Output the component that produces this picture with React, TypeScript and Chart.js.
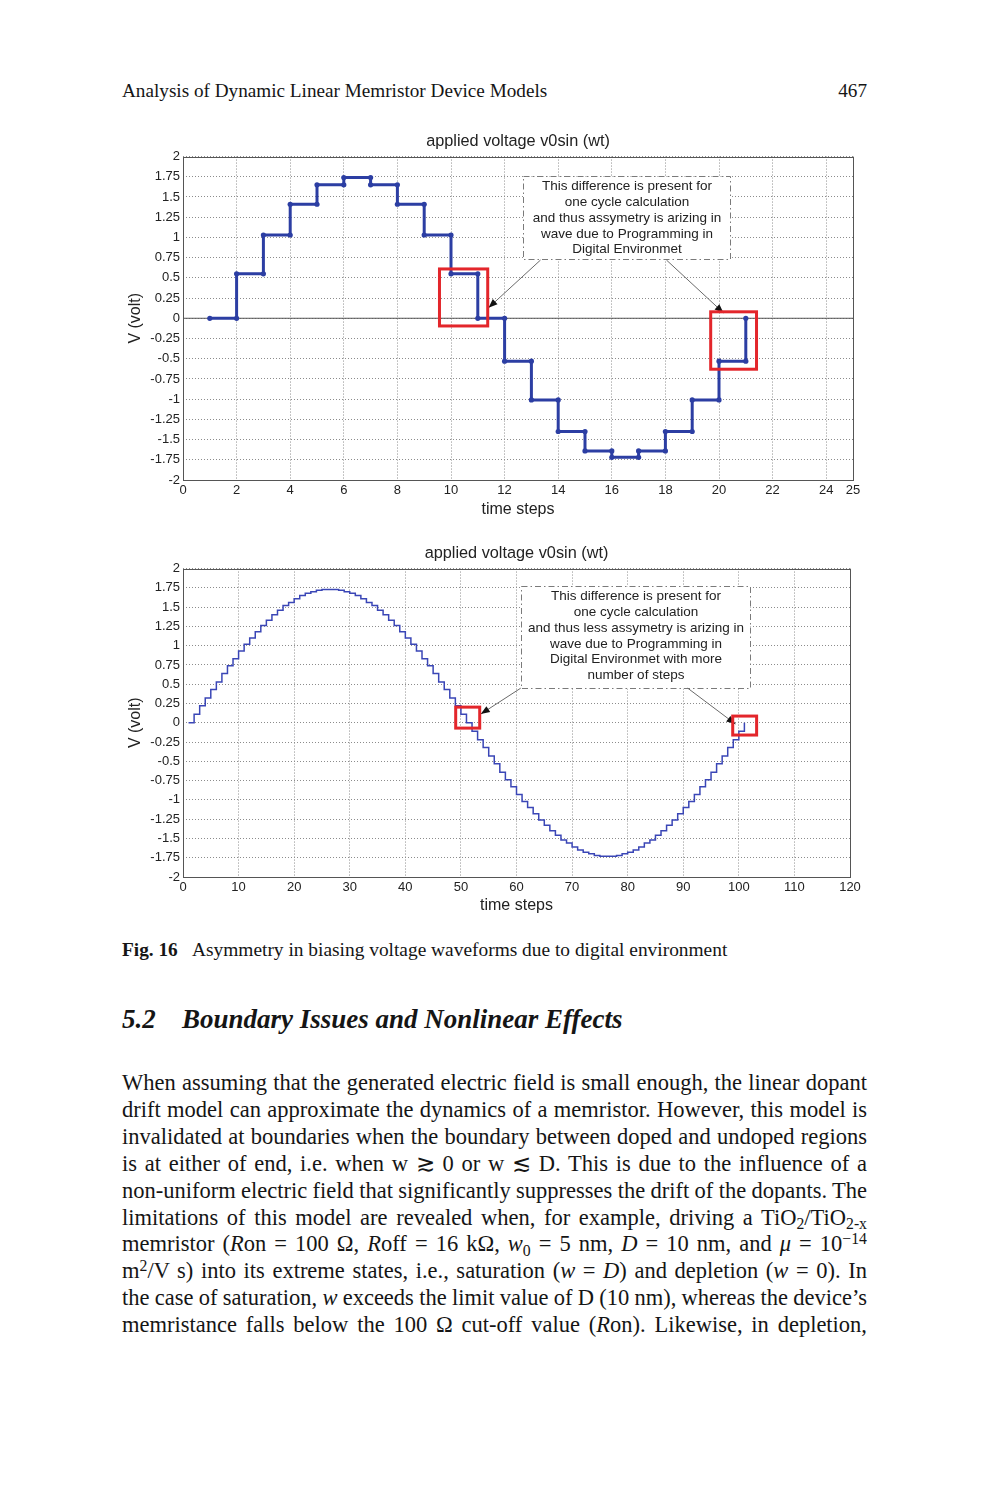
import React, { useEffect, useRef } from "react";
import { Chart, registerables } from "chart.js";

Chart.register(...registerables);

// ---------- data ----------
const Y_TICKS = [-2, -1.75, -1.5, -1.25, -1, -0.75, -0.5, -0.25, 0, 0.25, 0.5, 0.75, 1, 1.25, 1.5, 1.75, 2];
const X_TICKS_1 = [0, 2, 4, 6, 8, 10, 12, 14, 16, 18, 20, 22, 24, 25];
const X_TICKS_2 = [0, 10, 20, 30, 40, 50, 60, 70, 80, 90, 100, 110, 120];

const TIME_STEPS_1 = [1, 2, 3, 4, 5, 6, 7, 8, 9, 10, 11, 12, 13, 14, 15, 16, 17, 18, 19, 20, 21];
const VOLTAGE_1 = [0, 0.55, 1.03, 1.41, 1.65, 1.74, 1.65, 1.41, 1.03, 0.55, 0, -0.53, -1.01, -1.4, -1.64, -1.72, -1.64, -1.4, -1.01, -0.53, 0];

const TIME_STEPS_2 = [
  1, 2, 3, 4, 5, 6, 7, 8, 9, 10, 11, 12, 13, 14, 15, 16, 17, 18, 19, 20,
  21, 22, 23, 24, 25, 26, 27, 28, 29, 30, 31, 32, 33, 34, 35, 36, 37, 38, 39, 40,
  41, 42, 43, 44, 45, 46, 47, 48, 49, 50, 51, 52, 53, 54, 55, 56, 57, 58, 59, 60,
  61, 62, 63, 64, 65, 66, 67, 68, 69, 70, 71, 72, 73, 74, 75, 76, 77, 78, 79, 80,
  81, 82, 83, 84, 85, 86, 87, 88, 89, 90, 91, 92, 93, 94, 95, 96, 97, 98, 99, 100, 101,
];
const VOLTAGE_2 = [
  0, 0.11, 0.22, 0.32, 0.43, 0.53, 0.64, 0.74, 0.83, 0.93, 1.02, 1.1, 1.18, 1.26, 1.33, 1.4, 1.46, 1.52, 1.56, 1.61,
  1.65, 1.68, 1.7, 1.72, 1.73, 1.73, 1.73, 1.72, 1.7, 1.68, 1.65, 1.61, 1.56, 1.52, 1.46, 1.4, 1.33, 1.26, 1.18, 1.1,
  1.02, 0.93, 0.83, 0.74, 0.64, 0.53, 0.43, 0.32, 0.22, 0.11, 0, -0.11, -0.22, -0.32, -0.43, -0.53, -0.64, -0.74, -0.83, -0.93,
  -1.02, -1.1, -1.18, -1.26, -1.33, -1.4, -1.46, -1.52, -1.56, -1.61, -1.65, -1.68, -1.7, -1.72, -1.73, -1.73, -1.73, -1.72, -1.7, -1.68,
  -1.65, -1.61, -1.56, -1.52, -1.46, -1.4, -1.33, -1.26, -1.18, -1.1, -1.02, -0.93, -0.83, -0.74, -0.64, -0.53, -0.43, -0.32, -0.22, -0.11, 0,
];

const ZERO_X_1 = [0, 25];
const ZERO_Y_1 = [0, 0];

const CHART_TITLE = "applied voltage v0sin (wt)";
const X_TITLE = "time steps";
const Y_TITLE = "V (volt)";

const NOTE_LINES_1 = [
  "This difference is present for",
  "one cycle calculation",
  "and thus assymetry is arizing in",
  "wave due to Programming in",
  "Digital Environmet",
];
const NOTE_LINES_2 = [
  "This difference is present for",
  "one cycle calculation",
  "and thus less assymetry is arizing in",
  "wave due to Programming in",
  "Digital Environmet with more",
  "number of steps",
];

// ---------- annotations (data coordinates) ----------
const NOTES_1 = {
  box: { x0: 12.69, x1: 20.41, y0: 1.76, y1: 0.735 },
  lines: NOTE_LINES_1,
  rects: [
    { x0: 9.57, x1: 11.37, y0: 0.61, y1: -0.095 },
    { x0: 19.69, x1: 21.4, y0: 0.08, y1: -0.63 },
  ],
  arrows: [
    { x0: 13.34, y0: 0.72, x1: 11.4, y1: 0.13 },
    { x0: 18.04, y0: 0.72, x1: 20.17, y1: 0.066 },
  ],
};
const NOTES_2 = {
  box: { x0: 60.76, x1: 101.96, y0: 1.768, y1: 0.449 },
  lines: NOTE_LINES_2,
  rects: [
    { x0: 49.06, x1: 53.38, y0: 0.203, y1: -0.069 },
    { x0: 98.9, x1: 103.2, y0: 0.087, y1: -0.159 },
  ],
  arrows: [
    { x0: 60.76, y0: 0.449, x1: 53.57, y1: 0.113 },
    { x0: 90.8, y0: 0.449, x1: 99.4, y1: -0.017 },
  ],
};

const SANS = '"Liberation Sans", Arial, Helvetica, sans-serif';
const SERIF = '"Liberation Serif", "Times New Roman", Times, serif';

function notesPlugin(n: any) {
  return {
    id: "notes",
    afterDatasetsDraw(chart: any) {
      const { ctx, chartArea: a, scales } = chart;
      const X = (v: number) => scales.x.getPixelForValue(v);
      const Y = (v: number) => scales.y.getPixelForValue(v);
      ctx.save();
      // text box
      const bx0 = Math.round(X(n.box.x0)) + 0.5;
      const bx1 = Math.round(X(n.box.x1)) + 0.5;
      const by0 = Math.round(Y(n.box.y0)) + 0.5;
      const by1 = Math.round(Y(n.box.y1)) + 0.5;
      ctx.fillStyle = "#ffffff";
      ctx.fillRect(bx0, by0, bx1 - bx0, by1 - by0);
      ctx.setLineDash([6, 3, 1.5, 3]);
      ctx.strokeStyle = "#7a7a7a";
      ctx.lineWidth = 1;
      ctx.strokeRect(bx0, by0, bx1 - bx0, by1 - by0);
      ctx.setLineDash([]);
      ctx.fillStyle = "#222";
      ctx.font = `13.5px ${SANS}`;
      ctx.textAlign = "center";
      ctx.textBaseline = "middle";
      n.lines.forEach((t: string, i: number) => {
        ctx.fillText(t, (bx0 + bx1) / 2, by0 + 10 + i * 15.8);
      });
      // arrows
      n.arrows.forEach((ar: any) => {
        const x0 = X(ar.x0), y0 = Y(ar.y0), x1 = X(ar.x1), y1 = Y(ar.y1);
        ctx.strokeStyle = "#6a6a6a";
        ctx.lineWidth = 1;
        ctx.beginPath();
        ctx.moveTo(x0, y0);
        ctx.lineTo(x1, y1);
        ctx.stroke();
        const ang = Math.atan2(y1 - y0, x1 - x0);
        const L = 9, W = 3.5;
        const c = Math.cos(ang), s = Math.sin(ang);
        ctx.fillStyle = "#111";
        ctx.beginPath();
        ctx.moveTo(x1, y1);
        ctx.lineTo(x1 - L * c + W * s, y1 - L * s - W * c);
        ctx.lineTo(x1 - L * c - W * s, y1 - L * s + W * c);
        ctx.closePath();
        ctx.fill();
      });
      // red rects
      ctx.strokeStyle = "#e3262b";
      ctx.lineWidth = 3;
      n.rects.forEach((r: any) => {
        ctx.strokeRect(X(r.x0), Y(r.y0), X(r.x1) - X(r.x0), Y(r.y1) - Y(r.y0));
      });
      // plot frame
      ctx.strokeStyle = "#555";
      ctx.lineWidth = 1;
      ctx.strokeRect(Math.round(a.left) + 0.5, Math.round(a.top) + 0.5, Math.round(a.width), Math.round(a.height));
      ctx.restore();
    },
  };
}

function StepChart(props: {
  width: number;
  height: number;
  padRight: number;
  xMax: number;
  xTicks: number[];
  datasets: any[];
  notes: any;
  xTitlePadBottom: number;
}) {
  const ref = useRef<HTMLCanvasElement>(null);
  useEffect(() => {
    const tickFont = { family: SANS, size: 13 };
    const titleFont = { family: SANS, size: 16, weight: "normal" as const };
    const gridOpts = { color: "#8c8c8c", lineWidth: 1, drawTicks: false };
    const chart = new Chart(ref.current!, {
      type: "line",
      data: { datasets: props.datasets },
      options: {
        responsive: false,
        animation: false,
        devicePixelRatio: 1,
        layout: { padding: { left: 0, right: props.padRight, top: 0, bottom: 0 } },
        plugins: {
          legend: { display: false },
          tooltip: { enabled: false },
          title: {
            display: true,
            fullSize: false,
            text: CHART_TITLE,
            color: "#222",
            font: { family: SANS, size: 16.3, weight: "normal" },
            padding: { top: 7, bottom: 5 },
          },
        },
        scales: {
          x: {
            type: "linear",
            min: 0,
            max: props.xMax,
            afterBuildTicks: (s: any) => {
              s.ticks = props.xTicks.map((v) => ({ value: v }));
            },
            afterFit: (s: any) => {
              s.height = 45;
            },
            ticks: {
              autoSkip: false,
              maxRotation: 0,
              padding: 3,
              color: "#222",
              font: tickFont,
              callback: (v: any) => String(v),
            },
            grid: gridOpts,
            border: { display: false, dash: [1, 2] },
            title: {
              display: true,
              text: X_TITLE,
              color: "#222",
              font: titleFont,
              padding: { top: 0, bottom: props.xTitlePadBottom },
            },
          },
          y: {
            type: "linear",
            min: -2,
            max: 2,
            afterBuildTicks: (s: any) => {
              s.ticks = Y_TICKS.map((v) => ({ value: v }));
            },
            afterFit: (s: any) => {
              s.width = 68;
            },
            ticks: {
              autoSkip: false,
              padding: 3,
              color: "#222",
              font: tickFont,
              callback: (v: any) => String(v),
            },
            grid: gridOpts,
            border: { display: false, dash: [1, 2] },
            title: {
              display: true,
              text: Y_TITLE,
              color: "#222",
              font: titleFont,
              padding: { top: 11, bottom: 0 },
            },
          },
        },
      } as any,
      plugins: [notesPlugin(props.notes)],
    });
    return () => chart.destroy();
  }, []);
  return <canvas ref={ref} width={props.width} height={props.height} style={{ display: "block" }} />;
}

function buildCorners(xs: number[], ys: number[]) {
  const pts = [{ x: xs[0], y: ys[0] }];
  for (let i = 1; i < xs.length; i++) {
    pts.push({ x: xs[i], y: ys[i - 1] });
    pts.push({ x: xs[i], y: ys[i] });
  }
  return pts;
}

const datasets1 = [
  {
    data: buildCorners(TIME_STEPS_1, VOLTAGE_1),
    borderColor: "#2c3ea3",
    backgroundColor: "#2c3ea3",
    borderWidth: 3,
    pointRadius: 2.6,
    pointBorderWidth: 0,
    tension: 0,
  },
  {
    data: ZERO_X_1.map((x, i) => ({ x, y: ZERO_Y_1[i] })),
    borderColor: "#555",
    borderWidth: 1,
    pointRadius: 0,
  },
];

const datasets2 = [
  {
    data: TIME_STEPS_2.map((x, i) => ({ x, y: VOLTAGE_2[i] })),
    stepped: "before",
    borderColor: "#3a46b6",
    backgroundColor: "#3a46b6",
    borderWidth: 1.5,
    pointRadius: 0,
  },
];

const abs = (left: number, top: number): React.CSSProperties => ({ position: "absolute", left, top });

const PARA_TOP = 1070;
const PARA_LH = 26.9;
const sub: React.CSSProperties = { fontSize: "0.7em", position: "relative", top: "0.3em", lineHeight: 0 };
const sup: React.CSSProperties = { fontSize: "0.7em", position: "relative", top: "-0.45em", lineHeight: 0 };

const PARA_LINES: React.ReactNode[] = [
  <>When assuming that the generated electric field is small enough, the linear dopant</>,
  <>drift model can approximate the dynamics of a memristor. However, this model is</>,
  <>invalidated at boundaries when the boundary between doped and undoped regions</>,
  <>is at either of end, i.e. when w ≳ 0 or w ≲ D. This is due to the influence of a</>,
  <>non-uniform electric field that significantly suppresses the drift of the dopants. The</>,
  <>
    limitations of this model are revealed when, for example, driving a TiO<span style={sub}>2</span>/TiO
    <span style={sub}>2-x</span>
  </>,
  <>
    memristor (<i>R</i>on = 100 Ω, <i>R</i>off = 16 kΩ, <i>w</i>
    <span style={sub}>0</span> = 5 nm, <i>D</i> = 10 nm, and <i>μ</i> = 10<span style={sup}>−14</span>
  </>,
  <>
    m<span style={sup}>2</span>/V s) into its extreme states, i.e., saturation (<i>w</i> = <i>D</i>) and depletion (<i>w</i> = 0). In
  </>,
  <>
    the case of saturation, <i>w</i> exceeds the limit value of D (10 nm), whereas the device’s
  </>,
  <>memristance falls below the 100 Ω cut-off value (<i>R</i>on). Likewise, in depletion,</>,
];

export default function App() {
  return (
    <div
      style={{
        position: "absolute",
        left: 0,
        top: 0,
        width: 989,
        height: 1500,
        background: "#fff",
        color: "#151515",
        fontFamily: SERIF,
        overflow: "hidden",
      }}
    >
      <div style={{ ...abs(122, 80.6), fontSize: 19.2, lineHeight: "19px", whiteSpace: "nowrap" }}>
        Analysis of Dynamic Linear Memristor Device Models
      </div>
      <div style={{ ...abs(767, 80.6), width: 100, textAlign: "right", fontSize: 19.2, lineHeight: "19px" }}>467</div>

      <div style={abs(115, 125)}>
        <StepChart
          width={760}
          height={400}
          padRight={22}
          xMax={25}
          xTicks={X_TICKS_1}
          datasets={datasets1}
          notes={NOTES_1}
          xTitlePadBottom={6}
        />
      </div>

      <div style={abs(115, 537)}>
        <StepChart
          width={760}
          height={385}
          padRight={25}
          xMax={120}
          xTicks={X_TICKS_2}
          datasets={datasets2}
          notes={NOTES_2}
          xTitlePadBottom={7}
        />
      </div>

      <div style={{ ...abs(122, 940), fontSize: 19.3, lineHeight: "19px", whiteSpace: "nowrap", fontWeight: "bold" }}>Fig. 16</div>
      <div style={{ ...abs(192, 940), fontSize: 19.4, lineHeight: "19px", whiteSpace: "nowrap" }}>
        Asymmetry in biasing voltage waveforms due to digital environment
      </div>

      <div style={{ ...abs(122, 1006), fontSize: 27, lineHeight: "27px", fontWeight: "bold", fontStyle: "italic" }}>5.2</div>
      <div
        style={{ ...abs(182, 1006), fontSize: 27, lineHeight: "27px", fontWeight: "bold", fontStyle: "italic", whiteSpace: "nowrap" }}
      >
        Boundary Issues and Nonlinear Effects
      </div>

      {PARA_LINES.map((ln, i) => (
        <div
          key={i}
          style={{
            ...abs(122, PARA_TOP + i * PARA_LH),
            width: 745,
            height: PARA_LH,
            fontSize: 22.5,
            wordSpacing: "-1.5px",
            lineHeight: `${PARA_LH}px`,
            textAlign: "justify",
            textAlignLast: "justify",
            whiteSpace: "nowrap",
          }}
        >
          {ln}
        </div>
      ))}
    </div>
  );
}
